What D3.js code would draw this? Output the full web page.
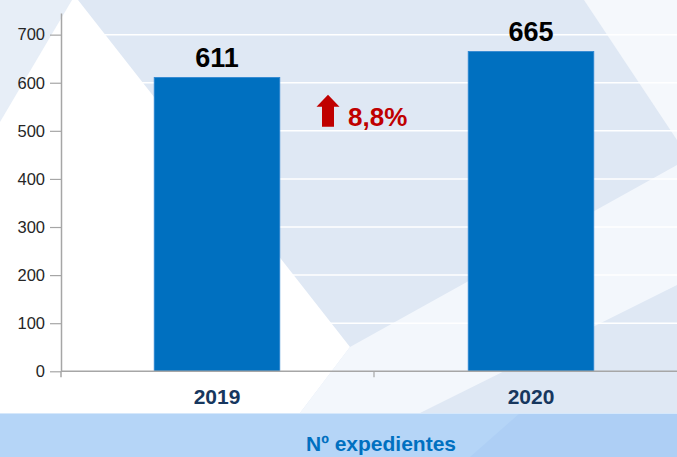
<!DOCTYPE html>
<html>
<head>
<meta charset="utf-8">
<script src="https://cdn.jsdelivr.net/npm/d3@7"></script>
<style>
  body { margin: 0; background: #fff; }
  svg { display: block; font-family: "Liberation Sans", Arial, sans-serif; }
</style>
</head>
<body>
<svg id="chart"></svg>
<script>
// data
var years = ["2019", "2020"];
var expedientes = [611, 665];
var yTicks = [0, 100, 200, 300, 400, 500, 600, 700];
var axisTitle = "Nº expedientes";

var dimensions = {
    width: 677,
    height: 457,
    margin: { top: 13, bottom: 86, left: 61, right: 0 }
};

var svg = d3.select("#chart")
    .attr("width", dimensions.width)
    .attr("height", dimensions.height);

var bottomY = 371.3;
var bandTop = 413;

// background shapes
var bg = svg.append("g");
bg.append("rect").attr("width", dimensions.width).attr("height", bandTop).attr("fill", "#dfe8f4");
var shapes = [
    { pts: [[78, 0], [350, 347], [300, bandTop], [0, bandTop], [0, 0]], fill: "#ffffff" },
    { pts: [[0, 0], [72, 0], [0, 122]], fill: "#e7eef7" },
    { pts: [[300, bandTop], [350, 347], [677, 165], [677, 285], [420, bandTop]], fill: "#f3f7fc" },
    { pts: [[584, 0], [677, 0], [677, 140]], fill: "#f5f8fc" }
];
shapes.forEach(function(s) {
    bg.append("polygon")
        .attr("points", s.pts.map(function(p) { return p.join(","); }).join(" "))
        .attr("fill", s.fill);
});
bg.append("rect").attr("y", bandTop).attr("width", dimensions.width)
    .attr("height", dimensions.height - bandTop).attr("fill", "#b5d5f7");
bg.append("polygon")
    .attr("points", "470,457 520," + bandTop + " 677," + bandTop + " 677,457")
    .attr("fill", "#aecff5");
bg.append("line").attr("x1", 0).attr("x2", dimensions.width)
    .attr("y1", bandTop + 0.5).attr("y2", bandTop + 0.5)
    .attr("stroke", "#d6e8fb").attr("stroke-width", 1);

// scales
var xScale = d3.scaleBand()
    .domain(years)
    .range([dimensions.margin.left - 1, 688])
    .paddingInner(0.6)
    .paddingOuter(0.3);

var yScale = d3.scaleLinear()
    .domain([0, 745])
    .range([bottomY, dimensions.margin.top]);

// gridlines
svg.append("g")
    .selectAll("line")
    .data(yTicks.filter(function(d) { return d > 0; }))
    .enter()
    .append("line")
    .attr("x1", dimensions.margin.left)
    .attr("x2", dimensions.width)
    .attr("y1", function(d) { return yScale(d); })
    .attr("y2", function(d) { return yScale(d); })
    .attr("stroke", "#ffffff")
    .attr("stroke-width", 1.5);

// bars
svg.selectAll(".bar")
    .data(years)
    .enter()
    .append("rect")
    .attr("class", "bar")
    .attr("x", function(d) { return xScale(d); })
    .attr("y", function(d, i) { return yScale(expedientes[i]); })
    .attr("width", xScale.bandwidth())
    .attr("height", function(d, i) { return bottomY - yScale(expedientes[i]); })
    .attr("fill", "#0070c0")
    .attr("stroke", "#2f87d2")
    .attr("stroke-width", 0.8);

// value labels
svg.selectAll(".value")
    .data(years)
    .enter()
    .append("text")
    .attr("x", function(d) { return xScale(d) + xScale.bandwidth() / 2; })
    .attr("y", function(d, i) { return yScale(expedientes[i]) - 10; })
    .attr("text-anchor", "middle")
    .attr("font-size", 27)
    .attr("font-weight", "bold")
    .attr("fill", "#000")
    .text(function(d, i) { return expedientes[i]; });

// y axis
var yAxis = d3.axisLeft(yScale).tickValues(yTicks).tickSize(11).tickSizeOuter(0).tickPadding(5);
var gy = svg.append("g")
    .attr("transform", "translate(" + dimensions.margin.left + ",0)")
    .call(yAxis);
gy.select(".domain").attr("stroke", "#a6a6a6").attr("stroke-width", 1.5);
gy.selectAll(".tick line").attr("stroke", "#a6a6a6").attr("stroke-width", 1.2);
gy.selectAll(".tick text").attr("font-size", 16.5).attr("fill", "#262626")
    .attr("font-family", "'Liberation Sans', Arial, sans-serif");
gy.append("line").attr("x1", 0).attr("x2", 0).attr("y1", bottomY).attr("y2", bottomY + 6)
    .attr("stroke", "#a6a6a6").attr("stroke-width", 1.5);

// x axis
var step = xScale.step();
var xAxisG = svg.append("g").attr("transform", "translate(0," + bottomY + ")");
xAxisG.append("line").attr("x1", dimensions.margin.left).attr("x2", dimensions.width)
    .attr("stroke", "#a6a6a6").attr("stroke-width", 1.5);
xAxisG.selectAll(".sep")
    .data(years.slice(1))
    .enter()
    .append("line")
    .attr("x1", function(d) { return xScale(d) - step * xScale.paddingInner() / 2; })
    .attr("x2", function(d) { return xScale(d) - step * xScale.paddingInner() / 2; })
    .attr("y1", 0).attr("y2", 6)
    .attr("stroke", "#a6a6a6").attr("stroke-width", 1.2);
xAxisG.selectAll(".lbl")
    .data(years)
    .enter()
    .append("text")
    .attr("x", function(d) { return xScale(d) + xScale.bandwidth() / 2; })
    .attr("y", 33)
    .attr("text-anchor", "middle")
    .attr("font-size", 21)
    .attr("font-weight", "bold")
    .attr("fill", "#17375e")
    .text(function(d) { return d; });

// variation annotation
var pct = (expedientes[1] - expedientes[0]) / expedientes[0] * 100;
var midX = xScale(years[1]) - step * xScale.paddingInner() / 2;
var ann = svg.append("g").attr("fill", "#c00000");
var ax = midX - 46, ay = yScale(575);
ann.append("path")
    .attr("d", "M" + ax + "," + ay +
        " L" + (ax + 11.5) + "," + (ay + 12) +
        " L" + (ax + 6) + "," + (ay + 12) +
        " L" + (ax + 6) + "," + (ay + 32) +
        " L" + (ax - 6) + "," + (ay + 32) +
        " L" + (ax - 6) + "," + (ay + 12) +
        " L" + (ax - 11.5) + "," + (ay + 12) + " Z");
ann.append("text")
    .attr("x", midX - 26)
    .attr("y", ay + 31)
    .attr("font-size", 26)
    .attr("font-weight", "bold")
    .text(pct.toFixed(1).replace(".", ",") + "%");

// bottom title
svg.append("text")
    .attr("x", 381)
    .attr("y", 451)
    .attr("text-anchor", "middle")
    .attr("font-size", 21)
    .attr("font-weight", "bold")
    .attr("fill", "#0070c0")
    .text(axisTitle);
</script>
</body>
</html>
